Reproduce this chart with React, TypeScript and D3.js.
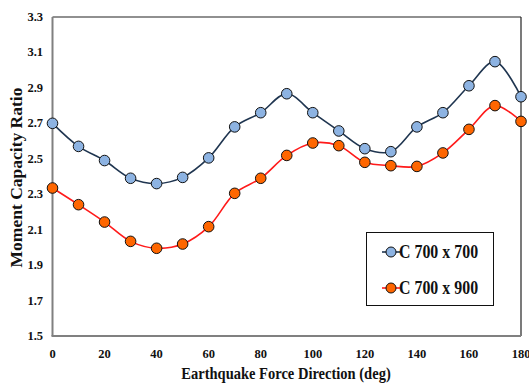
import React, { useEffect, useRef } from 'react';
import * as d3 from 'd3';

const directions = [0, 10, 20, 30, 40, 50, 60, 70, 80, 90, 100, 110, 120, 130, 140, 150, 160, 170, 180];
const c700x700 = [2.70, 2.57, 2.49, 2.39, 2.36, 2.395, 2.505, 2.68, 2.76, 2.867, 2.76, 2.657, 2.557, 2.54, 2.68, 2.76, 2.912, 3.048, 2.85];
const c700x900 = [2.335, 2.241, 2.143, 2.034, 1.995, 2.019, 2.117, 2.305, 2.39, 2.519, 2.589, 2.574, 2.48, 2.461, 2.457, 2.533, 2.666, 2.80, 2.711];
const yTicks = [1.5, 1.7, 1.9, 2.1, 2.3, 2.5, 2.7, 2.9, 3.1, 3.3];
const xTicks = [0, 20, 40, 60, 80, 100, 120, 140, 160, 180];
const seriesNames = ['C 700 x 700', 'C 700 x 900'];

const W = 529;
const H = 386;
const FONT = "'Times New Roman', 'Liberation Serif', Times, serif";

const App: React.FC = () => {
  const svgRef = useRef<SVGSVGElement>(null);

  useEffect(() => {
    if (!svgRef.current) return;
    const svg = d3.select(svgRef.current);
    svg.selectAll('*').remove();

    const left = 52.5, right = 521, top = 17, bottom = 336;

    const x = d3.scaleLinear().domain([0, 180]).range([left, right]);
    const y = d3.scaleLinear().domain([1.5, 3.3]).range([bottom, top]);

    // frame: top/right dark, left/bottom gray axes
    svg.append('line').attr('x1', left).attr('x2', right).attr('y1', top).attr('y2', top)
      .attr('stroke', '#222').attr('stroke-width', 1.2);
    svg.append('line').attr('x1', right).attr('x2', right).attr('y1', top).attr('y2', bottom)
      .attr('stroke', '#222').attr('stroke-width', 1.2);

    const series = [
      { name: seriesNames[0], values: c700x700, line: '#1F3550', fill: '#8DB3E2' },
      { name: seriesNames[1], values: c700x900, line: '#FF1A1A', fill: '#FF6600' },
    ];

    const lineGen = d3.line<number>()
      .x((_, i) => x(directions[i]))
      .y((d) => y(d))
      .curve(d3.curveCatmullRom.alpha(0.5));

    series.forEach((s) => {
      svg.append('path')
        .attr('d', lineGen(s.values))
        .attr('fill', 'none')
        .attr('stroke', s.line)
        .attr('stroke-width', 1.6);
    });

    svg.append('line').attr('x1', left).attr('x2', left).attr('y1', top).attr('y2', bottom)
      .attr('stroke', '#808080').attr('stroke-width', 2);
    svg.append('line').attr('x1', left - 1).attr('x2', right).attr('y1', bottom).attr('y2', bottom)
      .attr('stroke', '#808080').attr('stroke-width', 2);

    series.forEach((s) => {
      svg.append('g').selectAll('ellipse')
        .data(s.values)
        .join('ellipse')
        .attr('cx', (_, i) => x(directions[i]))
        .attr('cy', (d) => y(d))
        .attr('rx', 5.3)
        .attr('ry', 5.3)
        .attr('fill', s.fill)
        .attr('stroke', '#111')
        .attr('stroke-width', 1);
    });

    // tick labels
    svg.append('g').selectAll('text')
      .data(yTicks)
      .join('text')
      .attr('x', 43)
      .attr('y', (d) => y(d) + 4)
      .attr('text-anchor', 'end')
      .attr('font-family', FONT)
      .attr('font-size', 12.5)
      .attr('font-weight', 'bold')
      .attr('fill', '#111')
      .text((d) => d.toFixed(1));

    svg.append('g').selectAll('text')
      .data(xTicks)
      .join('text')
      .attr('x', (d) => x(d))
      .attr('y', 358)
      .attr('text-anchor', 'middle')
      .attr('font-family', FONT)
      .attr('font-size', 12.5)
      .attr('font-weight', 'bold')
      .attr('fill', '#111')
      .text((d) => String(d));

    // axis titles
    svg.append('text')
      .attr('transform', 'translate(286,379) scale(0.88,1)')
      .attr('text-anchor', 'middle')
      .attr('font-family', FONT)
      .attr('font-size', 16.5)
      .attr('font-weight', 'bold')
      .attr('fill', '#111')
      .text('Earthquake Force Direction (deg)');

    svg.append('text')
      .attr('transform', 'translate(22,177.5) rotate(-90)')
      .attr('text-anchor', 'middle')
      .attr('font-family', FONT)
      .attr('font-size', 17.5)
      .attr('font-weight', 'bold')
      .attr('fill', '#111')
      .text('Moment Capacity Ratio');

    // legend
    const lg = svg.append('g');
    lg.append('rect')
      .attr('x', 366.5).attr('y', 232.5)
      .attr('width', 127).attr('height', 73)
      .attr('fill', '#fff').attr('stroke', '#111').attr('stroke-width', 1);

    series.forEach((s, i) => {
      const cy = 252 + i * 36;
      lg.append('line')
        .attr('x1', 382).attr('x2', 400).attr('y1', cy).attr('y2', cy)
        .attr('stroke', s.line).attr('stroke-width', 1.6);
      lg.append('ellipse')
        .attr('cx', 391).attr('cy', cy).attr('rx', 5).attr('ry', 5)
        .attr('fill', s.fill).attr('stroke', '#111').attr('stroke-width', 1);
      lg.append('text')
        .attr('transform', `translate(399,${cy + 6}) scale(0.86,1)`)
        .attr('font-family', FONT)
        .attr('font-size', 18.5)
        .attr('font-weight', 'bold')
        .attr('fill', '#111')
        .text(s.name);
    });
  }, []);

  return (
    <svg
      ref={svgRef}
      width={W}
      height={H}
      style={{ position: 'absolute', left: 0, top: 0, background: '#fff' }}
    />
  );
};

export default App;
